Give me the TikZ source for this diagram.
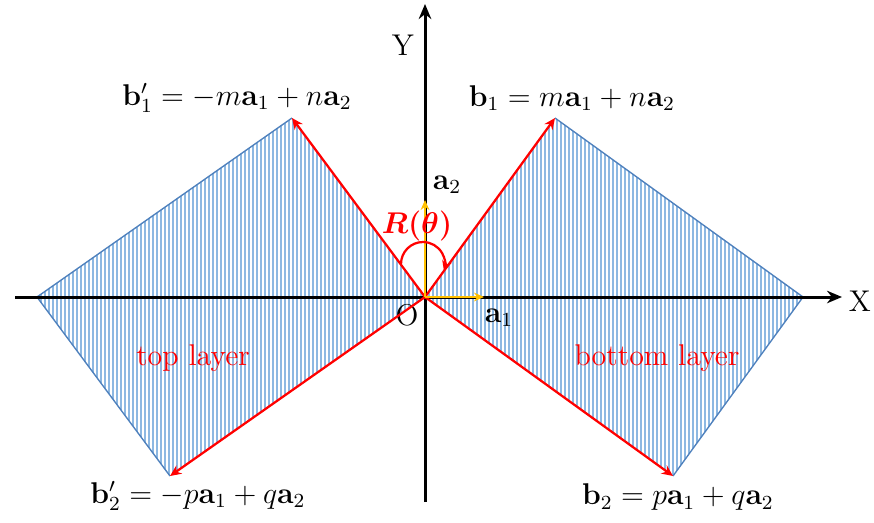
\documentclass[tikz,border=0pt]{standalone}
\usepackage{amsmath}
\usetikzlibrary{arrows.meta}
\definecolor{hatchblue}{HTML}{8DB8E2}
\definecolor{edgeblue}{HTML}{4F81BD}
\definecolor{vecorange}{HTML}{FFC000}
\tikzset{
  axis/.style={line width=1.2pt, -{Stealth[length=6pt,width=5pt]}},
  hatch/.style={hatchblue, line width=0.45pt},
  edge/.style={edgeblue, line width=0.55pt},
  latvec/.style={red, line width=0.9pt, -{Stealth[length=4.5pt,width=4pt]}},
  basevec/.style={vecorange, line width=0.8pt, -{Stealth[length=4pt,width=3.5pt]}},
  rotarrow/.style={red, line width=0.9pt, -{Stealth[length=4pt,width=4pt]}},
  layer/.style={red, font=\large}
}
\begin{document}
\begin{tikzpicture}[x=0.4pt, y=-0.4pt]
  \useasboundingbox (0,0) rectangle (874,522);

  % Origin and lattice vectors
  \coordinate (O) at (425,297);
  \coordinate (B1) at (555,118);
  \coordinate (B2) at (673,476);
  \coordinate (B1p) at (292,118);
  \coordinate (B2p) at (170,476);
  \coordinate (Rc) at (803,297);
  \coordinate (Lc) at (37,297);

  % Hatched cells
  \begin{scope}
    \clip (O) -- (B1) -- (Rc) -- (B2) -- cycle;
    \foreach \x in {425,429,...,806}
      \draw[hatch] (\x,110) -- (\x,480);
  \end{scope}
  \begin{scope}
    \clip (O) -- (B1p) -- (Lc) -- (B2p) -- cycle;
    \foreach \x in {425,421,...,34}
      \draw[hatch] (\x,110) -- (\x,480);
  \end{scope}
  \draw[edge] (B1) -- (Rc) -- (B2);
  \draw[edge] (B1p) -- (Lc) -- (B2p);

  % Axes
  \coordinate (Xa) at (15,297);
  \coordinate (Xb) at (842,297);
  \coordinate (Ya) at (425,502);
  \coordinate (Yb) at (425,4);
  \draw[axis] (Xa) -- (Xb);
  \draw[axis] (Ya) -- (Yb);
  \node[font=\large] (X) at (860,301) {X};
  \node[font=\large] (Y) at (403,45) {Y};
  \node[font=\large] (Olab) at (407,315) {O};

  % Red vectors
  \draw[latvec] (O) -- (B1);
  \draw[latvec] (O) -- (B2);
  \draw[latvec] (O) -- (B1p);
  \draw[latvec] (O) -- (B2p);

  % Unit vectors a1, a2
  \coordinate (A1) at (484,297);
  \coordinate (A2) at (425,200);
  \draw[basevec] (O) -- (A1);
  \draw[basevec] (O) -- (A2);
  \node[font=\large] (a1) at (499,318) {$\mathbf{a}_1$};
  \node[font=\large] (a2) at (447,185) {$\mathbf{a}_2$};

  % Rotation (y axis points down, so angles run the other way)
  \coordinate (Rs) at (401,264);
  \draw[rotarrow] (Rs) arc[start angle=180, end angle=378, radius=22];
  \node[text=red, font=\large] (theta) at (417,226) {$\boldsymbol{R(\theta)}$};

  % Labels
  \node[font=\large] (lb1) at (572,98) {$\mathbf{b}_1 = m\mathbf{a}_1 + n\mathbf{a}_2$};
  \node[font=\large] (lb1p) at (237,98) {$\mathbf{b}_1' = -m\mathbf{a}_1 + n\mathbf{a}_2$};
  \node[font=\large] (lb2p) at (198,496) {$\mathbf{b}_2' = -p\mathbf{a}_1 + q\mathbf{a}_2$};
  \node[font=\large] (lb2) at (678,497) {$\mathbf{b}_2 = p\mathbf{a}_1 + q\mathbf{a}_2$};
  \node[layer] (top) at (193,358) {top layer};
  \node[layer] (bot) at (657,358) {bottom layer};
\end{tikzpicture}
\end{document}
